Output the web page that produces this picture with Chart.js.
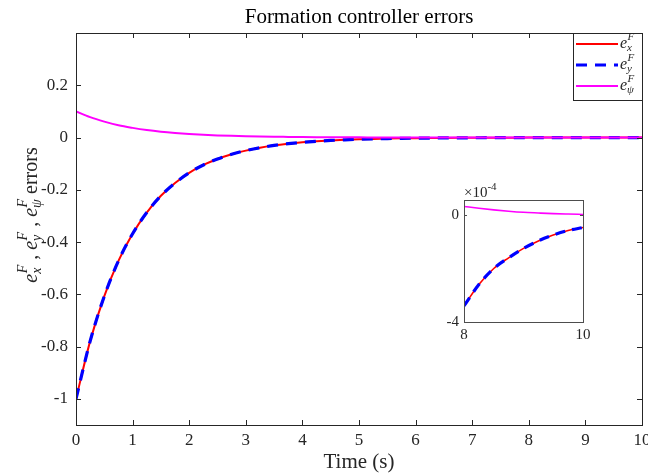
<!DOCTYPE html>
<html>
<head>
<meta charset="utf-8">
<script src="https://cdn.jsdelivr.net/npm/chart.js@4.4.0/dist/chart.umd.min.js"></script>
<style>
  body { margin: 0; background: #fff; }
  #wrap { position: relative; width: 648px; height: 475px; }
  #main { position: absolute; left: 0; top: 0; }
  #inset { position: absolute; left: 430px; top: 180px; }
</style>
</head>
<body>
<div id="wrap">
  <canvas id="main" width="648" height="475"></canvas>
  <canvas id="inset" width="170" height="170"></canvas>
</div>
<script>
// Data (time in s)
const time = [0, 0.25, 0.5, 0.75, 1, 1.25, 1.5, 1.75, 2, 2.25, 2.5, 2.75, 3, 3.25, 3.5, 3.75, 4, 4.25, 4.5, 4.75,
  5, 5.25, 5.5, 5.75, 6, 6.25, 6.5, 6.75, 7, 7.25, 7.5, 7.75, 8, 8.25, 8.5, 8.75, 9, 9.25, 9.5, 9.75, 10];
const errX = [-1, -0.779, -0.607, -0.472, -0.368, -0.287, -0.223, -0.174, -0.135, -0.105, -0.082, -0.064, -0.050,
  -0.039, -0.030, -0.0235, -0.0183, -0.0143, -0.0111, -0.0087, -0.0067, -0.0052, -0.0041, -0.0032, -0.0025,
  -0.0019, -0.0015, -0.00117, -0.00091, -0.00071, -0.00055, -0.00043, -0.00034, -0.00026, -0.00020, -0.00016,
  -0.000125, -0.000097, -0.000075, -0.000058, -0.000047];
const errY = [-1, -0.779, -0.607, -0.472, -0.368, -0.287, -0.223, -0.174, -0.135, -0.105, -0.082, -0.064, -0.050,
  -0.039, -0.030, -0.0235, -0.0183, -0.0143, -0.0111, -0.0087, -0.0067, -0.0052, -0.0041, -0.0032, -0.0025,
  -0.0019, -0.0015, -0.00117, -0.00091, -0.00071, -0.00055, -0.00043, -0.00034, -0.00026, -0.00020, -0.00016,
  -0.000125, -0.000097, -0.000075, -0.000058, -0.000047];
const errPsi = [0.1, 0.078, 0.061, 0.047, 0.037, 0.0287, 0.0223, 0.0174, 0.0135, 0.0105, 0.0082, 0.0064, 0.005,
  0.0039, 0.003, 0.0024, 0.0018, 0.0014, 0.0011, 0.00087, 0.00067, 0.00052, 0.00041, 0.00032, 0.00025, 0.00019,
  0.00015, 0.00012, 0.000091, 0.000071, 0.000055, 0.000043, 0.000032, 0.000025, 0.000019, 0.000014, 0.000010,
  0.0000075, 0.0000052, 0.0000035, 0.000002];

// Tick labels
const xTicks = [0, 1, 2, 3, 4, 5, 6, 7, 8, 9, 10];
const yTicks = [-1, -0.8, -0.6, -0.4, -0.2, 0, 0.2];
const yTickLabels = ['-1', '-0.8', '-0.6', '-0.4', '-0.2', '0', '0.2'];
const insetXTicks = [8, 10];
const insetYTicks = [-4e-4, 0];
const insetYTickLabels = ['-4', '0'];

const SERIF = '"Liberation Serif", "DejaVu Serif", serif';
const INK = '#262626';

function pts(ys, from) {
  const out = [];
  time.forEach((t, i) => { if (t >= from) out.push({ x: t, y: ys[i] }); });
  return out;
}

// e^F_sub drawing, returns width
function drawE(ctx, x, y, sub, size, draw) {
  ctx.font = `italic ${size}px ${SERIF}`;
  const w = ctx.measureText('e').width;
  if (draw) ctx.fillText('e', x, y);
  const s = Math.round(size * 0.68);
  ctx.font = `italic ${s}px ${SERIF}`;
  const wf = ctx.measureText('F').width;
  const ws = ctx.measureText(sub).width;
  if (draw) {
    ctx.fillText('F', x + w + 0.5, y - size * 0.5);
    ctx.fillText(sub, x + w, y + size * 0.2);
  }
  return w + Math.max(wf + 0.5, ws);
}

function yTitle(ctx, x0, y, size, draw) {
  let x = x0;
  const subs = ['x', 'y', 'ψ'];
  subs.forEach((s, i) => {
    x += drawE(ctx, x, y, s, size, draw);
    if (i < 2) {
      ctx.font = `${size}px ${SERIF}`;
      if (draw) ctx.fillText(' , ', x, y);
      x += ctx.measureText(' , ').width;
    }
  });
  ctx.font = `${size}px ${SERIF}`;
  if (draw) ctx.fillText(' errors', x, y);
  x += ctx.measureText(' errors').width;
  return x - x0;
}

function noSidePad(s) {
  s.paddingLeft = 0; s.paddingRight = 0; s.paddingTop = 0; s.paddingBottom = 0;
}

const mainDecor = {
  id: 'mainDecor',
  afterDraw(chart) {
    const { ctx, chartArea: a, scales } = chart;
    ctx.save();
    ctx.strokeStyle = INK;
    ctx.lineWidth = 1;
    ctx.strokeRect(Math.round(a.left) + 0.5, Math.round(a.top) + 0.5,
      Math.round(a.right - a.left), Math.round(a.bottom - a.top));
    ctx.beginPath();
    xTicks.forEach(v => {
      const px = Math.round(scales.x.getPixelForValue(v)) + 0.5;
      ctx.moveTo(px, a.bottom); ctx.lineTo(px, a.bottom - 5);
      ctx.moveTo(px, a.top); ctx.lineTo(px, a.top + 5);
    });
    yTicks.forEach(v => {
      const py = Math.round(scales.y.getPixelForValue(v)) + 0.5;
      ctx.moveTo(a.left, py); ctx.lineTo(a.left + 5, py);
      ctx.moveTo(a.right, py); ctx.lineTo(a.right - 5, py);
    });
    ctx.stroke();

    ctx.fillStyle = '#000';
    ctx.textBaseline = 'alphabetic';
    ctx.textAlign = 'center';
    ctx.font = `21px ${SERIF}`;
    ctx.fillText('Formation controller errors', (a.left + a.right) / 2, 23);
    ctx.fillStyle = INK;
    ctx.fillText('Time (s)', (a.left + a.right) / 2, 468);

    // rotated y title
    ctx.textAlign = 'left';
    ctx.save();
    ctx.translate(37, 215);
    ctx.rotate(-Math.PI / 2);
    const tw = yTitle(ctx, 0, 0, 20, false);
    yTitle(ctx, -tw / 2, 0, 20, true);
    ctx.restore();

    // legend
    const lx = 573, ly = Math.round(a.top) + 0.5, lw = 69, lh = 67;
    ctx.fillStyle = '#fff';
    ctx.fillRect(lx, ly, lw, lh);
    ctx.strokeStyle = INK;
    ctx.lineWidth = 1;
    ctx.strokeRect(lx + 0.5, ly, lw, lh);
    const rows = [44, 65, 86];
    const subs = ['x', 'y', 'ψ'];
    chart.data.datasets.forEach((ds, i) => {
      ctx.beginPath();
      ctx.strokeStyle = ds.borderColor;
      ctx.lineWidth = ds.borderWidth;
      ctx.setLineDash(ds.borderDash || []);
      ctx.moveTo(576, rows[i]); ctx.lineTo(618, rows[i]);
      ctx.stroke();
      ctx.setLineDash([]);
      ctx.fillStyle = INK;
      drawE(ctx, 620, rows[i] + 4, subs[i], 16, true);
    });
    ctx.restore();
  }
};

new Chart(document.getElementById('main'), {
  type: 'line',
  data: {
    datasets: [
      { data: pts(errX, 0), borderColor: '#ff0000', borderWidth: 2, order: 2 },
      { data: pts(errY, 0), borderColor: '#0000ff', borderWidth: 3.2, borderDash: [11, 8], order: 1 },
      { data: pts(errPsi, 0), borderColor: '#ff00ff', borderWidth: 2, order: 0 }
    ]
  },
  options: {
    responsive: false,
    animation: false,
    devicePixelRatio: 1,
    layout: { padding: { top: 33, right: 6, left: 0, bottom: 0 } },
    elements: { point: { radius: 0 }, line: { cubicInterpolationMode: 'monotone', fill: false } },
    plugins: { legend: { display: false }, tooltip: { enabled: false } },
    scales: {
      x: {
        type: 'linear', min: 0, max: 10,
        grid: { display: false, drawTicks: false },
        border: { display: false },
        afterBuildTicks: s => { s.ticks = xTicks.map(v => ({ value: v })); },
        afterFit: s => { s.height = 50; noSidePad(s); },
        ticks: { padding: 5, color: INK, font: { family: SERIF, size: 17 }, maxRotation: 0, callback: v => String(v) }
      },
      y: {
        type: 'linear', min: -1.1, max: 0.4,
        grid: { display: false, drawTicks: false },
        border: { display: false },
        afterBuildTicks: s => { s.ticks = yTicks.map(v => ({ value: v })); },
        afterFit: s => { s.width = 76; noSidePad(s); },
        ticks: { padding: 8, color: INK, font: { family: SERIF, size: 17 },
          callback: (v, i) => yTickLabels[i] }
      }
    }
  },
  plugins: [mainDecor]
});

const insetDecor = {
  id: 'insetDecor',
  beforeDatasetsDraw(chart) {
    const { ctx, chartArea: a } = chart;
    ctx.save();
    ctx.fillStyle = '#fff';
    ctx.fillRect(a.left, a.top, a.right - a.left, a.bottom - a.top);
    ctx.restore();
  },
  afterDraw(chart) {
    const { ctx, chartArea: a, scales } = chart;
    ctx.save();
    ctx.strokeStyle = '#4d4d4d';
    ctx.lineWidth = 1;
    ctx.strokeRect(Math.round(a.left) + 0.5, Math.round(a.top) + 0.5,
      Math.round(a.right - a.left), Math.round(a.bottom - a.top));
    ctx.beginPath();
    insetYTicks.forEach(v => {
      const py = Math.round(scales.y.getPixelForValue(v)) + 0.5;
      ctx.moveTo(a.left, py); ctx.lineTo(a.left + 3, py);
      ctx.moveTo(a.right, py); ctx.lineTo(a.right - 3, py);
    });
    ctx.stroke();
    ctx.fillStyle = INK;
    ctx.textBaseline = 'alphabetic';
    ctx.textAlign = 'left';
    ctx.font = `15px ${SERIF}`;
    ctx.fillText('×10', a.left, a.top - 3);
    const w = ctx.measureText('×10').width;
    ctx.font = `11px ${SERIF}`;
    ctx.fillText('-4', a.left + w, a.top - 10);
    ctx.restore();
  }
};

new Chart(document.getElementById('inset'), {
  type: 'line',
  data: {
    datasets: [
      { data: pts(errX, 8), borderColor: '#ff0000', borderWidth: 1.6, order: 2 },
      { data: pts(errY, 8), borderColor: '#0000ff', borderWidth: 3.2, borderDash: [10, 7], order: 1 },
      { data: pts(errPsi, 8), borderColor: '#ff00ff', borderWidth: 1.6, order: 0 }
    ]
  },
  options: {
    responsive: false,
    animation: false,
    devicePixelRatio: 1,
    layout: { padding: { top: 20, right: 17, left: 0, bottom: 0 } },
    elements: { point: { radius: 0 }, line: { cubicInterpolationMode: 'monotone', fill: false } },
    plugins: { legend: { display: false }, tooltip: { enabled: false } },
    scales: {
      x: {
        type: 'linear', min: 8, max: 10,
        grid: { display: false, drawTicks: false },
        border: { display: false },
        afterBuildTicks: s => { s.ticks = insetXTicks.map(v => ({ value: v })); },
        afterFit: s => { s.height = 28; noSidePad(s); },
        ticks: { padding: 4, color: INK, font: { family: SERIF, size: 15 }, maxRotation: 0, callback: v => String(v) }
      },
      y: {
        type: 'linear', min: -4e-4, max: 0.56e-4,
        grid: { display: false, drawTicks: false },
        border: { display: false },
        afterBuildTicks: s => { s.ticks = insetYTicks.map(v => ({ value: v })); },
        afterFit: s => { s.width = 34; noSidePad(s); },
        ticks: { padding: 5, color: INK, font: { family: SERIF, size: 15 },
          callback: (v, i) => insetYTickLabels[i] }
      }
    }
  },
  plugins: [insetDecor]
});
</script>
</body>
</html>
